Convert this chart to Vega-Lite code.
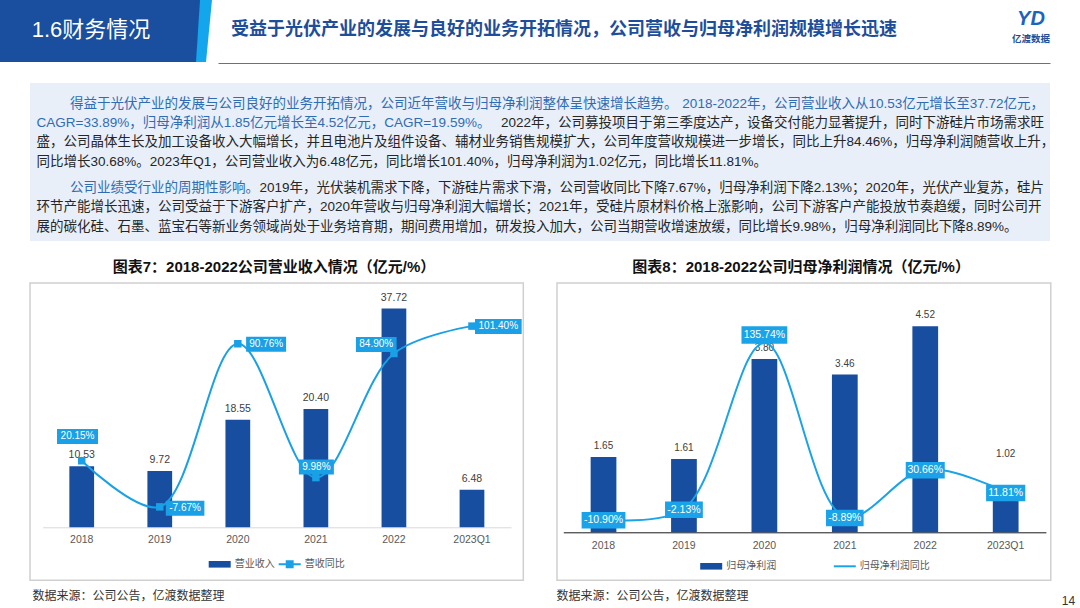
{
  "$schema": "https://vega.github.io/schema/vega-lite/v6.json",
  "padding": 0,
  "background": "#ffffff",
  "spacing": 0,
  "config": {
    "view": {"stroke": null},
    "font": "Liberation Sans, Noto Sans CJK SC",
    "locale": {"number": {"decimal": ".", "thousands": ",", "grouping": [3], "currency": ["", ""], "minus": "-"}}
  },
  "resolve": {"scale": {"color": "independent", "shape": "independent", "x": "independent", "y": "independent"}, "legend": {"color": "independent"}},
  "vconcat": [
    {
      "hconcat": [
        {
          "width": 206, "height": 62,
          "view": {"fill": "#1A4E9E", "stroke": null},
          "layer": [
            {"data": {"values": [{"part": "edge"}]}, "mark": {"type": "point", "shape": "M97,-31L109,-31L103,31L93,31Z", "size": 4, "filled": true, "color": "#13A6EC", "opacity": 1, "strokeWidth": 0}, "encoding": {}},
            {"data": {"values": [{"label": "1.6财务情况"}]}, "mark": {"type": "text", "color": "#ffffff", "fontSize": 22, "dx": -12, "dy": -1}, "encoding": {"text": {"field": "label"}}}
          ]
        },
        {"width": 12, "height": 1, "data": {"values": []}, "mark": "point", "encoding": {}},
        {
          "width": 832, "height": 63,
          "layer": [
            {"data": {"values": []}, "mark": "point", "encoding": {"x": {"field": "v", "type": "quantitative", "scale": {"domain": [0, 1]}, "axis": {"domain": true, "domainColor": "#4A78B5", "domainWidth": 1.2, "ticks": false, "labels": false, "grid": false, "title": null}}}},
            {"data": {"values": [{"slot": "left", "tier": "mid", "text": "受益于光伏产业的发展与良好的业务开拓情况，公司营收与归母净利润规模增长迅速"}]},
             "mark": {"type": "text", "align": "left", "fontSize": 18, "fontWeight": "bold", "color": "#1D4E9B"},
             "encoding": {"x": {"field": "slot", "type": "nominal", "scale": {"type": "point", "domain": ["left", "right"], "range": [13, 813], "padding": 0}, "axis": null}, "y": {"field": "tier", "type": "nominal", "scale": {"type": "point", "domain": ["top", "mid", "bottom"], "range": [19, 41], "padding": 0}, "axis": null}, "text": {"field": "text"}}},
            {"data": {"values": [{"slot": "right", "tier": "top", "text": "YD"}]},
             "mark": {"type": "text", "fontSize": 20, "fontWeight": "bold", "fontStyle": "italic", "color": "#1C63BE"},
             "encoding": {"x": {"field": "slot", "type": "nominal", "scale": {"type": "point", "domain": ["left", "right"], "range": [13, 813], "padding": 0}, "axis": null}, "y": {"field": "tier", "type": "nominal", "scale": {"type": "point", "domain": ["top", "mid", "bottom"], "range": [19, 41], "padding": 0}, "axis": null}, "text": {"field": "text"}}},
            {"data": {"values": [{"slot": "right", "tier": "bottom", "text": "亿渡数据"}]},
             "mark": {"type": "text", "fontSize": 9.5, "fontWeight": "bold", "color": "#1D4E9B", "dy": -2},
             "encoding": {"x": {"field": "slot", "type": "nominal", "scale": {"type": "point", "domain": ["left", "right"], "range": [13, 813], "padding": 0}, "axis": null}, "y": {"field": "tier", "type": "nominal", "scale": {"type": "point", "domain": ["top", "mid", "bottom"], "range": [19, 41], "padding": 0}, "axis": null}, "text": {"field": "text"}}}
          ],
          "resolve": {"scale": {"x": "independent", "y": "independent"}, "axis": {"x": "independent"}}
        }
      ],
      "spacing": 0, "bounds": "flush"
    },
    {"width": 1, "height": 19.4, "data": {"values": []}, "mark": "point", "encoding": {}},
    {
      "hconcat": [
        {"width": 30, "height": 1, "data": {"values": []}, "mark": "point", "encoding": {}},
        {
          "width": 1020, "height": 158,
          "view": {"fill": "#E8EFF9", "stroke": null},
          "data": {"values": [
            {"line": 1, "para": 1, "side": "left", "tone": "highlight", "text": "得益于光伏产业的发展与公司良好的业务开拓情况，公司近年营收与归母净利润整体呈快速增长趋势。"},
            {"line": 1, "para": 1, "side": "right", "tone": "highlight", "text": "2018-2022年，公司营业收入从10.53亿元增长至37.72亿元，"},
            {"line": 2, "para": 1, "side": "left", "tone": "highlight", "text": "CAGR=33.89%，归母净利润从1.85亿元增长至4.52亿元，CAGR=19.59%。"},
            {"line": 2, "para": 1, "side": "right", "tone": "plain", "text": "2022年，公司募投项目于第三季度达产，设备交付能力显著提升，同时下游硅片市场需求旺"},
            {"line": 3, "para": 1, "side": "left", "tone": "plain", "text": "盛，公司晶体生长及加工设备收入大幅增长，并且电池片及组件设备、辅材业务销售规模扩大，公司年度营收规模进一步增长，同比上升84.46%，归母净利润随营收上升，"},
            {"line": 4, "para": 1, "side": "left", "tone": "plain", "text": "同比增长30.68%。2023年Q1，公司营业收入为6.48亿元，同比增长101.40%，归母净利润为1.02亿元，同比增长11.81%。"},
            {"line": 5, "para": 2, "side": "left", "tone": "highlight", "text": "公司业绩受行业的周期性影响。"},
            {"line": 5, "para": 2, "side": "right", "tone": "plain", "text": "2019年，光伏装机需求下降，下游硅片需求下滑，公司营收同比下降7.67%，归母净利润下降2.13%；2020年，光伏产业复苏，硅片"},
            {"line": 6, "para": 2, "side": "left", "tone": "plain", "text": "环节产能增长迅速，公司受益于下游客户扩产，2020年营收与归母净利润大幅增长；2021年，受硅片原材料价格上涨影响，公司下游客户产能投放节奏趋缓，同时公司开"},
            {"line": 7, "para": 2, "side": "left", "tone": "plain", "text": "展的碳化硅、石墨、蓝宝石等新业务领域尚处于业务培育期，期间费用增加，研发投入加大，公司当期营收增速放缓，同比增长9.98%，归母净利润同比下降8.89%。"}
          ]},
          "encoding": {
            "x": {"field": "side", "type": "nominal", "scale": {"type": "point", "domain": ["left", "right"], "range": [6.5, 1014], "padding": 0}, "axis": null},
            "y": {"field": "line", "type": "ordinal", "scale": {"type": "point", "domain": [1, 2, 3, 4, 5, 6, 7], "range": [20.5, 136.5], "padding": 0}, "axis": null},
            "text": {"field": "text"}
          },
          "layer": [
            {"transform": [{"filter": "datum.line == 1 && datum.side == 'left'"}], "mark": {"type": "text", "align": "left", "fontSize": 13.5, "dx": 33.4, "color": "#2F6CB5"}},
            {"transform": [{"filter": "datum.line == 2 && datum.side == 'left'"}], "mark": {"type": "text", "align": "left", "fontSize": 13.5, "color": "#2F6CB5"}},
            {"transform": [{"filter": "datum.para == 1 && datum.side == 'left' && datum.tone == 'plain'"}], "mark": {"type": "text", "align": "left", "fontSize": 13.5, "color": "#262626"}},
            {"transform": [{"filter": "datum.para == 1 && datum.side == 'right' && datum.tone == 'plain'"}], "mark": {"type": "text", "align": "right", "fontSize": 13.5, "color": "#262626"}},
            {"transform": [{"filter": "datum.para == 1 && datum.side == 'right' && datum.tone == 'highlight'"}], "mark": {"type": "text", "align": "right", "fontSize": 13.5, "color": "#2F6CB5"}},
            {"transform": [{"filter": "datum.line == 5 && datum.side == 'left'"}], "mark": {"type": "text", "align": "left", "fontSize": 13.5, "dx": 33.4, "dy": 7, "color": "#2F6CB5"}},
            {"transform": [{"filter": "datum.para == 2 && datum.side == 'left' && datum.tone == 'plain'"}], "mark": {"type": "text", "align": "left", "fontSize": 13.5, "dy": 7, "color": "#262626"}},
            {"transform": [{"filter": "datum.para == 2 && datum.side == 'right'"}], "mark": {"type": "text", "align": "right", "fontSize": 13.5, "dy": 7, "color": "#262626"}}
          ]
        }
      ],
      "spacing": 0, "bounds": "flush"
    },
    {"width": 1, "height": 17, "data": {"values": []}, "mark": "point", "encoding": {}},
    {
      "hconcat": [
        {"width": 30, "height": 1, "data": {"values": []}, "mark": "point", "encoding": {}},
        {"width": 493.3, "height": 18, "data": {"values": [{"caption": "图表7：2018-2022公司营业收入情况（亿元/%）"}]}, "mark": {"type": "text", "fontSize": 15, "fontWeight": "bold", "color": "#111111", "dx": -2.6}, "encoding": {"text": {"field": "caption"}}},
        {"width": 32.9, "height": 1, "data": {"values": []}, "mark": "point", "encoding": {}},
        {"width": 493.8, "height": 18, "data": {"values": [{"caption": "图表8：2018-2022公司归母净利润情况（亿元/%）"}]}, "mark": {"type": "text", "fontSize": 15, "fontWeight": "bold", "color": "#111111", "dx": -2.8}, "encoding": {"text": {"field": "caption"}}}
      ],
      "spacing": 0, "bounds": "flush"
    },
    {"width": 1, "height": 5.7, "data": {"values": []}, "mark": "point", "encoding": {}},
    {
      "hconcat": [
        {"width": 30, "height": 1, "data": {"values": []}, "mark": "point", "encoding": {}},
        {
          "width": 493.3, "height": 297.3,
          "view": {"stroke": "#D0D0D0", "strokeWidth": 1.5, "fill": "#ffffff"},
          "data": {"values": [
            {"period": "2018", "revenue": 10.53, "yoy": 0.2015},
            {"period": "2019", "revenue": 9.72, "yoy": -0.0767},
            {"period": "2020", "revenue": 18.55, "yoy": 0.9076},
            {"period": "2021", "revenue": 20.40, "yoy": 0.0998},
            {"period": "2022", "revenue": 37.72, "yoy": 0.8490},
            {"period": "2023Q1", "revenue": 6.48, "yoy": 1.0140}
          ]},
          "encoding": {
            "x": {"field": "period", "type": "nominal", "sort": null,
              "scale": {"type": "band", "domain": ["2018", "2019", "2020", "2021", "2022", "2023Q1"], "range": [12.7, 481], "paddingInner": 0.683, "paddingOuter": 0.3415},
              "axis": {"orient": "bottom", "offset": -53, "labelAngle": 0, "labelFontSize": 10.5, "labelColor": "#595959", "labelPadding": 7, "domainColor": "#D9D9D9", "domainWidth": 1, "ticks": false, "grid": false, "title": null}}
          },
          "layer": [
            {"mark": {"type": "bar"},
             "encoding": {
               "y": {"field": "revenue", "type": "quantitative", "scale": {"domain": [0, 40], "range": [244.3, 12.3]}, "axis": null},
               "color": {"datum": "营业收入", "type": "nominal", "scale": {"domain": ["营业收入", "营收同比"], "range": ["#174EA0", "#19A0E6"]},
                 "legend": {"orient": "none", "legendX": 178.7, "legendY": 270.3, "direction": "horizontal", "title": null, "labelFontSize": 10, "labelColor": "#595959", "symbolSize": 484, "labelOffset": 4, "columnPadding": 4, "symbolStrokeWidth": 0,
                   "encode": {"symbols": {"update": {
                     "shape": {"signal": "datum.value === '营业收入' ? 'M-1,-0.3H1V0.3H-1Z' : 'M-1,-0.09H1V0.09H-1Z M-0.36,-0.36H0.36V0.36H-0.36Z'"},
                     "fill": {"signal": "datum.value === '营业收入' ? '#174EA0' : '#19A0E6'"},
                     "stroke": {"value": "transparent"},
                     "opacity": {"value": 1}}}}}}
             }},
            {"mark": {"type": "text", "baseline": "alphabetic", "dy": -8, "fontSize": 10.5, "color": "#404040"},
             "encoding": {"y": {"field": "revenue", "type": "quantitative", "scale": {"domain": [0, 40], "range": [244.3, 12.3]}, "axis": null}, "text": {"field": "revenue", "type": "quantitative", "format": ".2f"}}},
            {"mark": {"type": "line", "interpolate": "catmull-rom", "strokeWidth": 2},
             "encoding": {"y": {"field": "yoy", "type": "quantitative", "scale": {"domain": [-0.2, 1.2], "range": [244.3, 12.3]}, "axis": null}, "color": {"datum": "营收同比", "type": "nominal"}}},
            {"mark": {"type": "point", "shape": "square", "filled": true, "size": 56, "color": "#19A0E6", "opacity": 1},
             "encoding": {"y": {"field": "yoy", "type": "quantitative", "scale": {"domain": [-0.2, 1.2], "range": [244.3, 12.3]}, "axis": null}}},
            {"mark": {"type": "point", "filled": true, "size": 4, "color": "#19A0E6", "opacity": 1, "strokeWidth": 0},
             "encoding": {"y": {"field": "yoy", "type": "quantitative", "scale": {"domain": [-0.2, 1.2], "range": [244.3, 12.3]}, "axis": null},
               "shape": {"field": "period", "type": "nominal", "scale": {"domain": ["2018", "2019", "2020", "2021", "2022", "2023Q1"], "range": ["M-24.7,-31.8H16.3V-16.8H-24.7Z", "M6,-6H44.6V9H6Z", "M8.3,-6.9H48.3V8.1H8.3Z", "M-17,-18.2H18V-3.2H-17Z", "M-38,-16.5H2.7V-1.5H-38Z", "M3,-7.2H49.7V7.8H3Z"]}, "legend": null}}},
            {"transform": [{"filter": "datum.period == '2018'"}], "mark": {"type": "text", "color": "#ffffff", "fontSize": 10, "dx": -4.2, "dy": -24.3},
             "encoding": {"y": {"field": "yoy", "type": "quantitative", "scale": {"domain": [-0.2, 1.2], "range": [244.3, 12.3]}, "axis": null}, "text": {"field": "yoy", "type": "quantitative", "format": ".2%"}}},
            {"transform": [{"filter": "datum.period == '2019'"}], "mark": {"type": "text", "color": "#ffffff", "fontSize": 10, "dx": 25.3, "dy": 1.5},
             "encoding": {"y": {"field": "yoy", "type": "quantitative", "scale": {"domain": [-0.2, 1.2], "range": [244.3, 12.3]}, "axis": null}, "text": {"field": "yoy", "type": "quantitative", "format": ".2%"}}},
            {"transform": [{"filter": "datum.period == '2020'"}], "mark": {"type": "text", "color": "#ffffff", "fontSize": 10, "dx": 28.3, "dy": 0.6},
             "encoding": {"y": {"field": "yoy", "type": "quantitative", "scale": {"domain": [-0.2, 1.2], "range": [244.3, 12.3]}, "axis": null}, "text": {"field": "yoy", "type": "quantitative", "format": ".2%"}}},
            {"transform": [{"filter": "datum.period == '2021'"}], "mark": {"type": "text", "color": "#ffffff", "fontSize": 10, "dx": 0.5, "dy": -10.7},
             "encoding": {"y": {"field": "yoy", "type": "quantitative", "scale": {"domain": [-0.2, 1.2], "range": [244.3, 12.3]}, "axis": null}, "text": {"field": "yoy", "type": "quantitative", "format": ".2%"}}},
            {"transform": [{"filter": "datum.period == '2022'"}], "mark": {"type": "text", "color": "#ffffff", "fontSize": 10, "dx": -17.7, "dy": -9},
             "encoding": {"y": {"field": "yoy", "type": "quantitative", "scale": {"domain": [-0.2, 1.2], "range": [244.3, 12.3]}, "axis": null}, "text": {"field": "yoy", "type": "quantitative", "format": ".2%"}}},
            {"transform": [{"filter": "datum.period == '2023Q1'"}], "mark": {"type": "text", "color": "#ffffff", "fontSize": 10, "dx": 26.3, "dy": 0.3},
             "encoding": {"y": {"field": "yoy", "type": "quantitative", "scale": {"domain": [-0.2, 1.2], "range": [244.3, 12.3]}, "axis": null}, "text": {"field": "yoy", "type": "quantitative", "format": ".2%"}}}
          ],
          "resolve": {"scale": {"y": "independent"}}
        },
        {"width": 32.9, "height": 1, "data": {"values": []}, "mark": "point", "encoding": {}},
        {
          "width": 493.8, "height": 297.3,
          "view": {"stroke": "#D0D0D0", "strokeWidth": 1.5, "fill": "#ffffff"},
          "data": {"values": [
            {"period": "2018", "profit": 1.65, "yoy": -0.1090},
            {"period": "2019", "profit": 1.61, "yoy": -0.0213},
            {"period": "2020", "profit": 3.80, "yoy": 1.3574},
            {"period": "2021", "profit": 3.46, "yoy": -0.0889},
            {"period": "2022", "profit": 4.52, "yoy": 0.3066},
            {"period": "2023Q1", "profit": 1.02, "yoy": 0.1181}
          ]},
          "encoding": {
            "x": {"field": "period", "type": "nominal", "sort": null,
              "scale": {"type": "band", "domain": ["2018", "2019", "2020", "2021", "2022", "2023Q1"], "range": [6.3, 488.9], "paddingInner": 0.68, "paddingOuter": 0.34},
              "axis": {"orient": "bottom", "offset": -48, "labelAngle": 0, "labelFontSize": 10.5, "labelColor": "#595959", "labelPadding": 8, "domainColor": "#1A1A1A", "domainWidth": 1, "ticks": false, "grid": false, "title": null}}
          },
          "layer": [
            {"mark": {"type": "bar"},
             "encoding": {
               "y": {"field": "profit", "type": "quantitative", "scale": {"domain": [0, 5], "range": [249.3, 21.3]}, "axis": null},
               "color": {"datum": "归母净利润", "type": "nominal", "scale": {"domain": ["归母净利润", "归母净利润同比"], "range": ["#174EA0", "#1AA3E8"]},
                 "legend": {"orient": "none", "legendX": 143.2, "legendY": 272.3, "direction": "horizontal", "title": null, "labelFontSize": 10, "labelColor": "#595959", "symbolSize": 484, "labelOffset": 4, "columnPadding": 57.6, "symbolStrokeWidth": 0,
                   "encode": {"symbols": {"update": {
                     "shape": {"signal": "datum.value === '归母净利润' ? 'M-1,-0.3H1V0.3H-1Z' : 'M-1,-0.09H1V0.09H-1Z'"},
                     "fill": {"signal": "datum.value === '归母净利润' ? '#174EA0' : '#1AA3E8'"},
                     "stroke": {"value": "transparent"},
                     "opacity": {"value": 1}}}}}}
             }},
            {"transform": [{"filter": "datum.period != '2023Q1'"}], "mark": {"type": "text", "baseline": "alphabetic", "dy": -8, "fontSize": 10, "color": "#404040"},
             "encoding": {"y": {"field": "profit", "type": "quantitative", "scale": {"domain": [0, 5], "range": [249.3, 21.3]}, "axis": null}, "text": {"field": "profit", "type": "quantitative", "format": ".2f"}}},
            {"transform": [{"filter": "datum.period == '2023Q1'"}], "mark": {"type": "text", "baseline": "alphabetic", "dy": -29, "fontSize": 10, "color": "#404040"},
             "encoding": {"y": {"field": "profit", "type": "quantitative", "scale": {"domain": [0, 5], "range": [249.3, 21.3]}, "axis": null}, "text": {"field": "profit", "type": "quantitative", "format": ".2f"}}},
            {"mark": {"type": "line", "interpolate": "catmull-rom", "strokeWidth": 2},
             "encoding": {"y": {"field": "yoy", "type": "quantitative", "scale": {"domain": [-0.217, 1.678], "range": [249.3, 21.3]}, "axis": null}, "color": {"datum": "归母净利润同比", "type": "nominal"}}},
            {"mark": {"type": "point", "filled": true, "size": 4, "color": "#1AA3E8", "opacity": 1, "strokeWidth": 0},
             "encoding": {"y": {"field": "yoy", "type": "quantitative", "scale": {"domain": [-0.217, 1.678], "range": [249.3, 21.3]}, "axis": null},
               "shape": {"field": "period", "type": "nominal", "scale": {"domain": ["2018", "2019", "2020", "2021", "2022", "2023Q1"], "range": ["M-21.9,-7.25H21.9V9.25H-21.9Z", "M-18.9,-7.25H18.9V9.25H-18.9Z", "M-22.9,-16.55H22.9V0.95H-22.9Z", "M-18.8,-7.25H18.8V9.25H-18.8Z", "M-19.5,-7.25H19.5V9.25H-19.5Z", "M-19.6,-7.25H19.6V9.25H-19.6Z"]}, "legend": null}}},
            {"transform": [{"filter": "datum.period != '2020'"}], "mark": {"type": "text", "color": "#ffffff", "fontSize": 10.5, "dy": 1},
             "encoding": {"y": {"field": "yoy", "type": "quantitative", "scale": {"domain": [-0.217, 1.678], "range": [249.3, 21.3]}, "axis": null}, "text": {"field": "yoy", "type": "quantitative", "format": ".2%"}}},
            {"transform": [{"filter": "datum.period == '2020'"}], "mark": {"type": "text", "color": "#ffffff", "fontSize": 10.5, "dy": -7.8},
             "encoding": {"y": {"field": "yoy", "type": "quantitative", "scale": {"domain": [-0.217, 1.678], "range": [249.3, 21.3]}, "axis": null}, "text": {"field": "yoy", "type": "quantitative", "format": ".2%"}}}
          ],
          "resolve": {"scale": {"y": "independent"}}
        }
      ],
      "spacing": 0, "bounds": "flush",
      "resolve": {"scale": {"color": "independent", "shape": "independent", "x": "independent"}, "legend": {"color": "independent"}}
    },
    {"width": 1, "height": 7.3, "data": {"values": []}, "mark": "point", "encoding": {}},
    {
      "hconcat": [
        {"width": 31.2, "height": 1, "data": {"values": []}, "mark": "point", "encoding": {}},
        {"width": 1, "height": 12, "data": {"values": [{"note": "数据来源：公司公告，亿渡数据整理"}]}, "mark": {"type": "text", "align": "left", "fontSize": 12, "color": "#333333"}, "encoding": {"text": {"field": "note"}}},
        {"width": 522.3, "height": 1, "data": {"values": []}, "mark": "point", "encoding": {}},
        {"width": 1, "height": 12, "data": {"values": [{"note": "数据来源：公司公告，亿渡数据整理"}]}, "mark": {"type": "text", "align": "left", "fontSize": 12, "color": "#333333"}, "encoding": {"text": {"field": "note"}}},
        {"width": 511, "height": 1, "data": {"values": []}, "mark": "point", "encoding": {}},
        {"width": 1, "height": 12, "data": {"values": [{"page": "14"}]}, "mark": {"type": "text", "fontSize": 12, "color": "#333333", "dy": 5}, "encoding": {"text": {"field": "page"}}}
      ],
      "spacing": 0, "bounds": "flush"
    }
  ]
}
